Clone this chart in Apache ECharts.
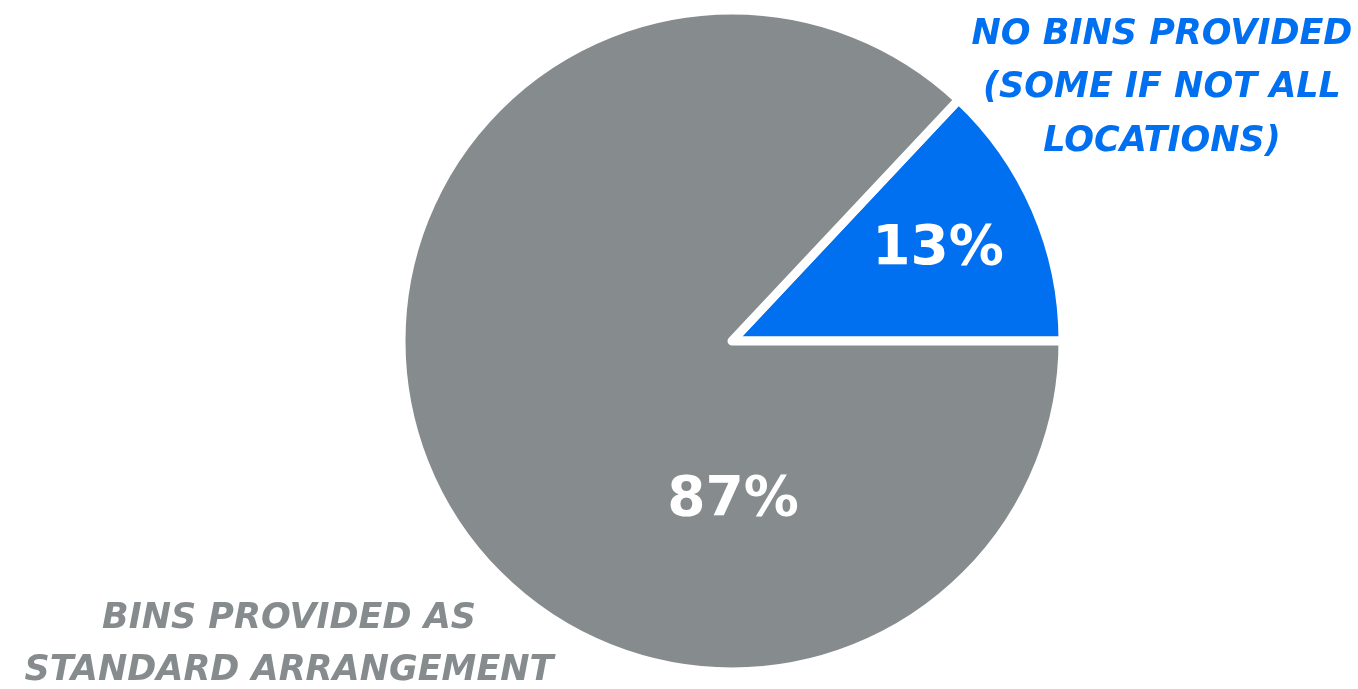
<!DOCTYPE html>
<html>
<head>
<meta charset="utf-8">
<script src="https://cdn.jsdelivr.net/npm/echarts@6/dist/echarts.min.js"></script>
<style>
  html, body { margin: 0; padding: 0; background: #ffffff; }
  #chart { width: 1358px; height: 689px; }
</style>
</head>
<body>
<div id="chart"></div>
<script>
// Share of responses: bins supplied or not
const categories = ['NO BINS PROVIDED\n(SOME IF NOT ALL\nLOCATIONS)', 'BINS PROVIDED AS\nSTANDARD ARRANGEMENT'];
const values = [13, 87];
const colors = ['#0070f0', '#868b8e'];

const FONT = '"DejaVu Sans", sans-serif';
const CX = 732, CY = 341;

// value labels sit at fixed offsets from the pie centre
const valueLabelOffsets = [[206, -91], [1, 160]];

const chart = echarts.init(document.getElementById('chart'), null, { renderer: 'canvas' });

const total = values.reduce((a, b) => a + b, 0);

chart.setOption({
  backgroundColor: '#ffffff',
  animation: false,
  series: [{
    type: 'pie',
    center: [CX, CY],
    radius: [0, 331],
    startAngle: 360 * values[0] / total,
    clockwise: true,
    silent: true,
    itemStyle: { borderColor: '#ffffff', borderWidth: 9 },
    label: {
      show: true,
      position: 'inside',
      formatter: p => p.value + '%',
      color: '#ffffff',
      fontFamily: FONT,
      fontWeight: 'bold',
      fontSize: 55
    },
    labelLine: { show: false },
    labelLayout: p => {
      const o = valueLabelOffsets[p.dataIndex];
      return { x: CX + o[0], y: CY + o[1], align: 'center', verticalAlign: 'middle' };
    },
    data: values.map((v, i) => ({
      value: v,
      name: categories[i],
      itemStyle: { color: colors[i] }
    }))
  }],
  graphic: [
    {
      type: 'text',
      x: 1162,
      y: 88,
      style: {
        text: categories[0],
        align: 'center',
        verticalAlign: 'middle',
        fill: colors[0],
        font: 'italic bold 35px ' + FONT,
        lineHeight: 53.5
      }
    },
    {
      type: 'text',
      x: 289,
      y: 645,
      style: {
        text: categories[1],
        align: 'center',
        verticalAlign: 'middle',
        fill: colors[1],
        font: 'italic bold 35px ' + FONT,
        lineHeight: 52
      }
    }
  ]
});
</script>
</body>
</html>
